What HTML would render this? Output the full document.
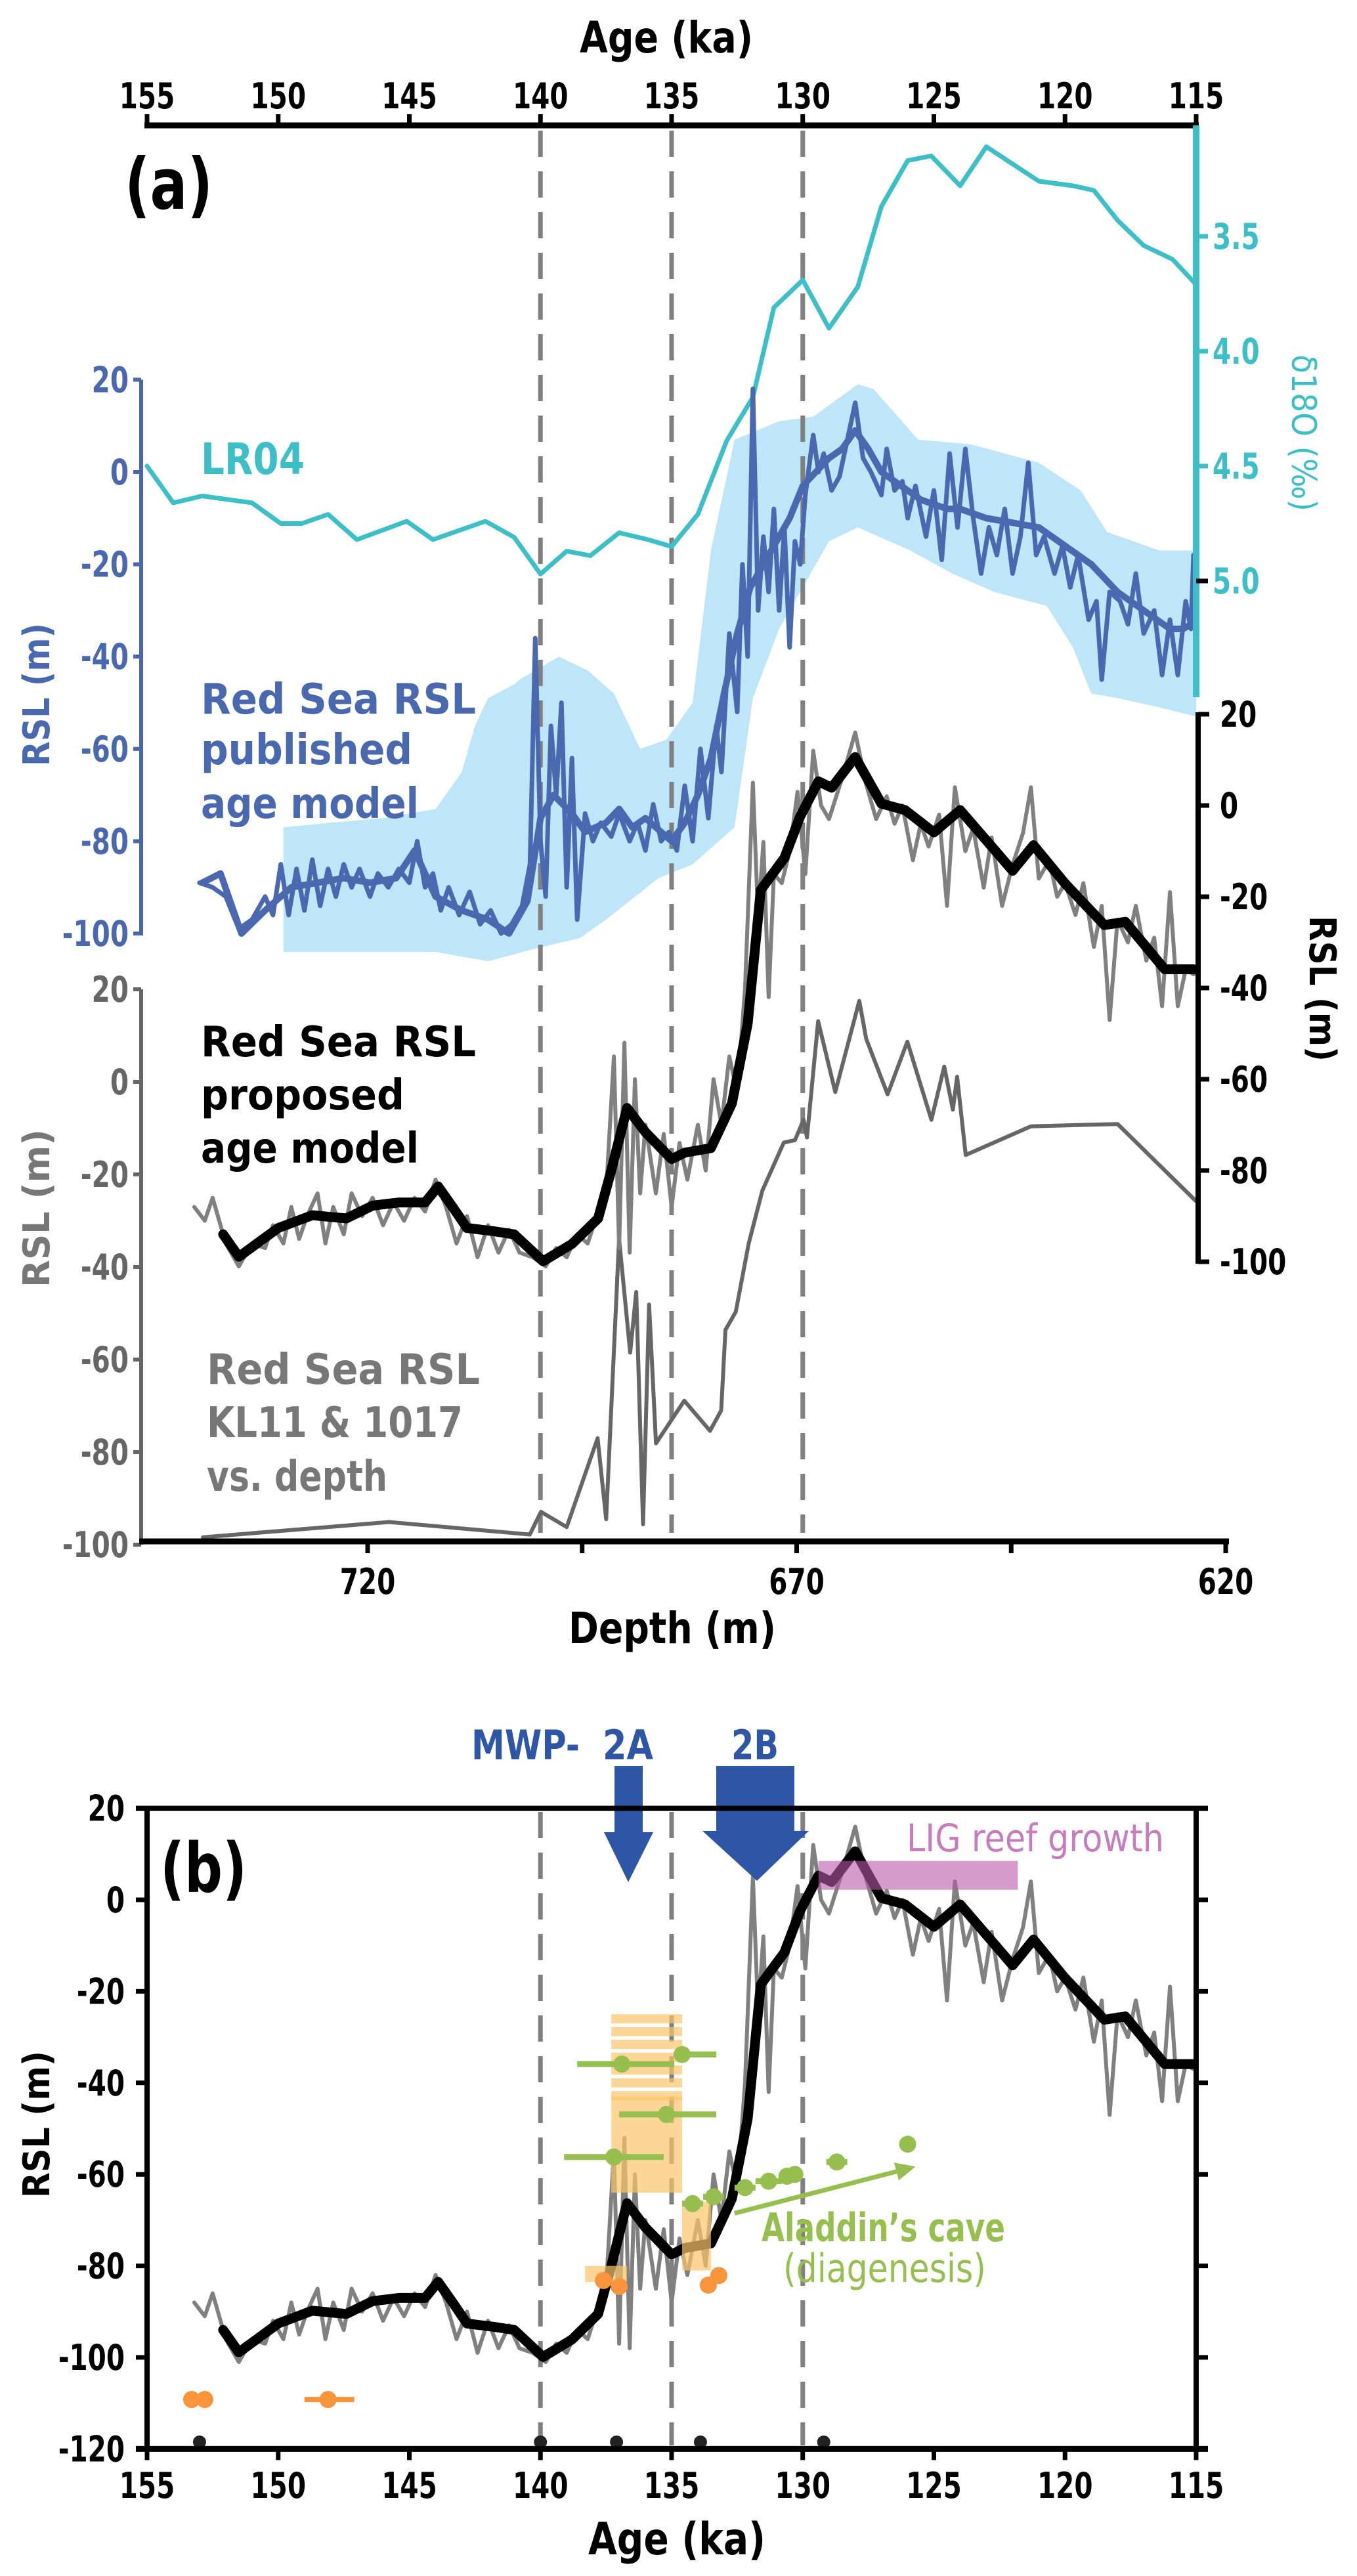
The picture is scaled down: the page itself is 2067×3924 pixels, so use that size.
<!DOCTYPE html>
<html><head><meta charset="utf-8"><style>
html,body{margin:0;padding:0;background:#fff}
svg{display:block}
text{font-family:"DejaVu Sans","Liberation Sans",sans-serif;font-weight:bold}
</style></head><body>
<svg id="fig" xmlns="http://www.w3.org/2000/svg" width="2067" height="3924" viewBox="0 0 2067 3924">
<g id="under"></g>
<g id="marks"></g>
<g id="axes"></g>
<g id="labels">
<text x="883" y="80" font-size="66" textLength="264" lengthAdjust="spacingAndGlyphs">Age (ka)</text>
<text x="190" y="318" font-size="108" textLength="134" lengthAdjust="spacingAndGlyphs">(a)</text>
<text x="306" y="722" font-size="66" fill="#3dbfc8" textLength="158" lengthAdjust="spacingAndGlyphs">LR04</text>
<g fill="#4a68b0" font-size="64">
<text x="306" y="1087" textLength="419" lengthAdjust="spacingAndGlyphs">Red Sea RSL</text>
<text x="306" y="1164" textLength="322" lengthAdjust="spacingAndGlyphs">published</text>
<text x="306" y="1246" textLength="332" lengthAdjust="spacingAndGlyphs">age model</text>
</g>
<g fill="#000" font-size="64">
<text x="306" y="1609" textLength="419" lengthAdjust="spacingAndGlyphs">Red Sea RSL</text>
<text x="306" y="1690" textLength="310" lengthAdjust="spacingAndGlyphs">proposed</text>
<text x="306" y="1771" textLength="332" lengthAdjust="spacingAndGlyphs">age model</text>
</g>
<g fill="#777" font-size="64" style="font-weight:normal">
<text x="315" y="2108" textLength="416" lengthAdjust="spacingAndGlyphs">Red Sea RSL</text>
<text x="315" y="2189" textLength="390" lengthAdjust="spacingAndGlyphs">KL11 &amp; 1017</text>
<text x="315" y="2271" textLength="275" lengthAdjust="spacingAndGlyphs">vs. depth</text>
</g>
<text transform="translate(75,1167) rotate(-90)" font-size="56" fill="#4a68b0" textLength="218" lengthAdjust="spacingAndGlyphs">RSL (m)</text>
<text transform="translate(75,1961) rotate(-90)" font-size="56" fill="#777" textLength="241" lengthAdjust="spacingAndGlyphs">RSL  (m)</text>
<text transform="translate(1995,1395) rotate(90)" font-size="56" fill="#000" textLength="222" lengthAdjust="spacingAndGlyphs">RSL (m)</text>
<text transform="translate(1968,540) rotate(90)" font-size="52" fill="#3dbfc8" style="font-weight:normal" textLength="239" lengthAdjust="spacingAndGlyphs">δ18O (‰)</text>
<text x="866" y="2503" font-size="66" textLength="316" lengthAdjust="spacingAndGlyphs">Depth (m)</text>
<text x="718" y="2680" font-size="62" fill="#2e55a6" textLength="165" lengthAdjust="spacingAndGlyphs">MWP-</text>
<text x="918" y="2680" font-size="62" fill="#2e55a6" textLength="77" lengthAdjust="spacingAndGlyphs">2A</text>
<text x="1114" y="2680" font-size="62" fill="#2e55a6" textLength="72" lengthAdjust="spacingAndGlyphs">2B</text>
<text x="244" y="2882" font-size="104" textLength="132" lengthAdjust="spacingAndGlyphs">(b)</text>
<text x="1381" y="2820" font-size="58" fill="#c77cbd" style="font-weight:normal" textLength="392" lengthAdjust="spacingAndGlyphs">LIG reef growth</text>
<text x="1160" y="3414" font-size="60" fill="#97bf4f" textLength="371" lengthAdjust="spacingAndGlyphs">Aladdin’s cave</text>
<text x="1193" y="3476" font-size="60" fill="#97bf4f" style="font-weight:normal" textLength="309" lengthAdjust="spacingAndGlyphs">(diagenesis)</text>
<text transform="translate(75,3348) rotate(-90)" font-size="56" fill="#000" textLength="224" lengthAdjust="spacingAndGlyphs">RSL (m)</text>
<text x="896" y="3891" font-size="68" textLength="270" lengthAdjust="spacingAndGlyphs">Age (ka)</text>
</g>
</svg>
<script>
// ---------- data ----------
const ageTicks=[155,150,145,140,135,130,125,120,115];
const depthTicks=[720,670,620];
const depthMinor=[695,645];
const blueTicks=[20,0,-20,-40,-60,-80,-100];
const grayTicks=[20,0,-20,-40,-60,-80,-100];
const rightTicks=[20,0,-20,-40,-60,-80,-100];
const d18Ticks=[3.5,4.0,4.5,5.0];
const bTicks=[20,0,-20,-40,-60,-80,-100,-120];
const terminations=[140,135,130];
const lrAge=[155,154,152.9,151,149.9,149.1,148.1,147,145.1,144.1,142.1,141,140,139,138.1,137,135.9,135,134,132.9,131.9,131.1,130,129,127.9,127,126,125.1,124,123,121,119.7,118.9,118,117,115.9,115];
const lrD18=[4.50,4.66,4.63,4.66,4.75,4.75,4.71,4.82,4.74,4.82,4.74,4.81,4.97,4.87,4.89,4.79,4.82,4.85,4.71,4.39,4.2,3.81,3.69,3.90,3.72,3.37,3.17,3.15,3.28,3.11,3.26,3.28,3.30,3.43,3.54,3.60,3.71];
const bandUpAge=[149.8,148,146,144,143,142.5,142,141,140.8,139.3,138.2,137.2,136.2,135.2,134.2,133.5,132.6,130.9,129.6,127.9,127.3,125.6,123.6,121,119.4,118.4,116.4,115];
const bandUpVal=[-77,-76,-75,-73,-65,-55,-49,-46,-45,-40,-43,-48,-60,-58,-50,-17,7,11,12,19,18,7,6,2,-4,-13,-17,-17];
const bandLoAge=[149.8,146,144,142,140,138.5,137.5,135.5,134.2,132.6,131.9,130.9,129.8,129,127.9,125.9,124.3,122.7,120.7,119.7,119,118,116.4,115];
const bandLoVal=[-104,-104,-104,-106,-103,-101,-97,-88,-85,-77,-49,-34,-23,-15,-12,-17,-22,-26,-29,-38,-48,-49,-51,-53];
const pubSmAge=[152.9,152.2,151.4,150.5,149.5,148.5,147.5,146.5,145.5,144.8,144,143,142,141.2,140.5,140,139.5,138.8,138.3,137.5,137,136.5,136,135,134.5,134,133.5,133,132.5,132,131.5,131,130.5,130,129.5,129,128.5,128,127.5,127,126.5,126,125.5,125,124.5,124,123.5,123,122,121,120,119,118,117,116,115.5,115.2];
const pubSmVal=[-89,-87,-100,-95,-90,-89,-88,-89,-88,-82,-92,-95,-97,-100,-93,-75,-70,-74,-78,-76,-73,-77,-75,-80,-76,-70,-62,-48,-35,-25,-20,-15,-10,-3,0,3,5,9,5,0,-2,-4,-6,-7,-8,-8,-9,-10,-11,-12,-16,-20,-26,-30,-34,-34,-33];
const pubRawAge=[153,152.5,152,151.5,151,150.5,150.2,149.9,149.6,149.3,149,148.7,148.4,148.1,147.8,147.5,147.2,146.9,146.5,146.2,145.8,145.4,145,144.7,144.4,144.1,143.8,143.5,143.1,142.7,142.3,141.9,141.5,141.1,140.7,140.4,140.2,140,139.8,139.6,139.4,139.2,139,138.8,138.6,138.3,138,137.7,137.3,137,136.6,136.3,136,135.7,135.4,135.1,134.8,134.5,134.2,133.9,133.6,133.3,133.1,132.8,132.5,132.3,132.1,131.9,131.7,131.5,131.3,131.1,130.9,130.7,130.5,130.3,130.1,129.9,129.6,129.4,129.2,128.9,128.6,128.3,128,127.7,127.4,127,126.8,126.5,126.2,126,125.7,125.3,125,124.7,124.4,124.1,123.8,123.5,123.2,122.9,122.6,122.3,122,121.7,121.4,121.1,120.8,120.4,120.1,119.8,119.5,119.1,118.8,118.6,118.3,117.9,117.6,117.3,117,116.6,116.3,116,115.7,115.4,115.2,115.1];
const pubRawVal=[-89,-90,-92,-99,-97,-92,-96,-85,-96,-86,-95,-84,-94,-86,-92,-85,-90,-86,-92,-87,-90,-86,-89,-80,-90,-87,-95,-90,-96,-91,-98,-95,-100,-98,-94,-85,-36,-80,-92,-55,-70,-50,-90,-62,-97,-74,-80,-76,-79,-74,-80,-76,-82,-72,-80,-78,-82,-68,-80,-60,-75,-55,-65,-35,-52,-20,-40,18,-30,-14,-26,-8,-30,-12,-38,-15,-20,-5,8,0,4,-4,-1,7,15,3,0,-5,5,-4,-2,-10,-3,-14,-4,-19,4,-12,5,-10,-22,-12,-18,-8,-22,-14,2,-18,-14,-22,-16,-25,-18,-32,-28,-45,-26,-28,-33,-22,-35,-30,-44,-32,-44,-28,-34,-18];
const propSmAge=[152.1,151.5,151,150,148.7,147.4,146.4,145.4,144.4,143.9,143.3,142.8,141.8,141,139.9,138.8,137.8,137.3,136.7,136,135,134.5,133.5,132.7,132.1,131.6,130.7,130.1,129.4,128.9,128,127,126.1,125,124,122,121.2,120,118.5,117.7,116.2,115.1];
const propSmVal=[-94,-98.9,-96.8,-92.6,-89.8,-90.5,-87.7,-87,-87,-83.5,-88.4,-92.6,-93.3,-94,-99.9,-96.1,-90.5,-80,-66.3,-71.6,-77.5,-76.1,-75.1,-65.3,-47.8,-18.5,-11.5,-2.4,5.3,3.9,10.6,0.4,-1,-5.9,-1,-14.3,-8.7,-17.1,-26.2,-25.5,-35.9,-35.9];
const propRawAge=[153.2,152.8,152.5,152,151.5,151,150.5,150.2,149.8,149.5,149.2,148.9,148.5,148.2,147.9,147.5,147.2,146.8,146.4,146,145.6,145.2,144.8,144.4,144,143.6,143.2,142.8,142.4,142,141.6,141.2,140.8,140.3,139.8,139.4,139,138.6,138.2,137.8,137.5,137.2,137,136.8,136.6,136.4,136.2,136,135.6,135.3,135,134.7,134.4,134,133.7,133.4,133.1,132.8,132.5,132.2,131.9,131.7,131.5,131.3,131.1,130.8,130.5,130.2,129.9,129.6,129.3,129,128.5,128,127.6,127.2,126.8,126.5,126.2,125.8,125.5,125.2,124.8,124.5,124.2,123.8,123.5,123.1,122.8,122.4,122,121.6,121.3,121,120.6,120.3,120,119.6,119.3,118.9,118.6,118.3,118,117.6,117.3,116.9,116.6,116.3,116,115.7,115.4,115.1];
const propRawVal=[-88,-91,-86,-96,-101,-96,-97,-92,-96,-88,-95,-90,-85,-96,-88,-94,-85,-90,-86,-92,-87,-91,-86,-89,-82,-88,-96,-90,-99,-92,-98,-93,-98,-99,-101,-97,-99,-94,-96,-89,-85,-55,-97,-52,-98,-60,-85,-70,-85,-72,-88,-74,-82,-70,-80,-60,-70,-55,-63,-40,5,-25,-8,-42,-15,-17,-10,3,-15,12,0,-3,6,16,5,-3,2,-4,0,-12,-4,-9,-2,-22,4,-10,-5,-18,-7,-22,-13,-6,4,-16,-12,-20,-17,-24,-17,-31,-22,-47,-25,-30,-22,-34,-29,-44,-19,-44,-36,-37];
const depthD=[739.2,717.5,701.1,699.8,696.8,693.2,692.2,690.7,689.4,688.7,687.9,687.2,686.4,683.1,680.1,678.8,678.3,677.1,675.6,674,671.5,670.2,669.2,668.8,667.5,665.5,662.7,661.9,659.4,657.1,654.3,652.8,651.8,651.3,650.3,642.7,632.6,623.5];
const depthV=[-98.4,-95.1,-97.8,-92.9,-96.2,-77,-94.5,-33.9,-58.5,-45.4,-95.6,-48.1,-78.1,-68.9,-75.4,-71,-53.6,-49.7,-35,-23.5,-13.1,-12.6,-8.2,-12,13.1,-2.2,17.5,9.3,-2.7,8.7,-8.2,3.3,-6,1.1,-15.8,-9.6,-9.1,-25.7];
const greenAge=[136.9,134.6,135.2,137.2,134.2,133.4,132.2,131.3,130.6,130.3,128.7,126.0];
const greenVal=[-35.9,-33.8,-46.9,-56.2,-66.4,-64.9,-62.9,-61.5,-60.4,-60,-57.3,-53.4];
const greenErrOld=[138.6,134.9,137.0,139.1,134.6,133.8,132.6,131.8,130.9,130.6,129.1,126.0];
const greenErrYoung=[134.9,133.3,133.3,135.3,133.8,133.0,131.8,130.8,130.3,130.0,128.3,126.0];
const orangeAge=[137.6,137.0,133.6,133.2,153.3,152.8,148.1];
const orangeVal=[-83.2,-84.5,-84.2,-82.1,-109.2,-109.2,-109.2];
const orangeErrOld=[137.6,137.0,133.6,133.2,153.6,153.1,149.0];
const orangeErrYoung=[137.6,137.0,133.6,133.2,153.0,152.5,147.1];
const blackDotAge=[153.0,140.0,137.1,133.9,129.2];
const blackDotVal=[-118.5,-118.5,-118.5,-118.5,-118.5];
const coralBoxes=[[137.3,134.6,-25,-43],[137.3,134.6,-43,-64],[138.3,136.7,-80,-83.5],[134.6,133.5,-66,-81]];
const ligBox=[129.4,121.8,8.5,2.2];
const aladdinArrow=[132.6,-68.5,125.7,-58.3];

// ---------- scales ----------
const ageX=a=>224+(155-a)*39.95;
const depthX=d=>560+(720-d)*13.07;
const yBlue=v=>719-v*7.03;
const yRight=v=>1227-v*6.95;
const yGrayL=v=>1648-v*7.05;
const yD18=d=>360+(d-3.5)*350;
const yB=v=>2894-v*6.97;

const NS="http://www.w3.org/2000/svg";
const under=document.getElementById('under'),marks=document.getElementById('marks'),axes=document.getElementById('axes');
function mk(tag,attrs,parent){const e=document.createElementNS(NS,tag);for(const k in attrs)e.setAttribute(k,attrs[k]);parent.appendChild(e);return e;}
function linePath(xs,ys,xf,yf){return xs.map((x,i)=>(i?'L':'M')+xf(x).toFixed(1)+','+yf(ys[i]).toFixed(1)).join('');}

// band
{const d=linePath(bandUpAge,bandUpVal,ageX,yBlue)+bandLoAge.slice().reverse().map((a,i)=>'L'+ageX(a).toFixed(1)+','+yBlue(bandLoVal[bandLoVal.length-1-i]).toFixed(1)).join('')+'Z';
const e=mk('path',{d:d,fill:'#bfe5f8',stroke:'none'},under);

}

// dashed termination lines
terminations.forEach(t=>{
 const e=mk('line',{x1:ageX(t),x2:ageX(t),y1:199,y2:2335,stroke:'#808080','stroke-width':7,'stroke-dasharray':'40,22'},under);
 
 
 const f=mk('line',{x1:ageX(t),x2:ageX(t),y1:2760,y2:3725,stroke:'#808080','stroke-width':7,'stroke-dasharray':'40,22'},under);
 
 
});

function series(xs,ys,xf,yf,col,w,name,par){const e=mk('path',{d:linePath(xs,ys,xf,yf),fill:'none',stroke:col,'stroke-width':w,'stroke-linejoin':'round','stroke-linecap':'round'},par||marks);return e;}
let s;
s=series(lrAge,lrD18,ageX,yD18,'#3dbfc8',7);


s=series(pubRawAge,pubRawVal,ageX,yBlue,'#4a68b0',7);


s=series(pubSmAge,pubSmVal,ageX,yBlue,'#4a68b0',10);


s=series(depthD,depthV,depthX,yGrayL,'#666',6);


s=series(propRawAge,propRawVal,ageX,yRight,'#808080',6);


s=series(propSmAge,propSmVal,ageX,yRight,'#000',15);


s=series(propRawAge,propRawVal,ageX,yB,'#808080',6);


s=series(propSmAge,propSmVal,ageX,yB,'#000',15);



// coral boxes
coralBoxes.forEach((b,i)=>{
 const x1=ageX(b[0]),x2=ageX(b[1]),y1=yB(b[2]),y2=yB(b[3]);
 const g=mk('g',{},marks);
 
 
 if(i===0){for(let y=y1;y<y2-4;y+=19.5){mk('rect',{x:x1,y:y,width:x2-x1,height:14,fill:'#fbc56a','fill-opacity':0.7},g);}}
 else mk('rect',{x:x1,y:y1,width:x2-x1,height:y2-y1,fill:'#fbc56a','fill-opacity':0.7},g);
});
{const e=mk('rect',{x:ageX(ligBox[0]),y:yB(ligBox[2]),width:ageX(ligBox[1])-ageX(ligBox[0]),height:yB(ligBox[3])-yB(ligBox[2]),fill:'#b95aa8','fill-opacity':0.6},marks);

}

// green points
greenAge.forEach((a,i)=>{
 const g=mk('g',{},marks);
 
 
 mk('line',{x1:ageX(greenErrOld[i]),x2:ageX(greenErrYoung[i]),y1:yB(greenVal[i]),y2:yB(greenVal[i]),stroke:'#97bf4f','stroke-width':9},g);
 mk('circle',{cx:ageX(a),cy:yB(greenVal[i]),r:13,fill:'#97bf4f'},g);
});
{const x1=ageX(aladdinArrow[0]),y1=yB(aladdinArrow[1]),x2=ageX(aladdinArrow[2]),y2=yB(aladdinArrow[3]);
const g=mk('g',{},marks);


const ang=Math.atan2(y2-y1,x2-x1),L=30,W=14;
const bx=x2-L*Math.cos(ang),by=y2-L*Math.sin(ang);
mk('line',{x1:x1,y1:y1,x2:bx,y2:by,stroke:'#97bf4f','stroke-width':7},g);
mk('polygon',{points:`${x2},${y2} ${bx+W*Math.sin(ang)},${by-W*Math.cos(ang)} ${bx-W*Math.sin(ang)},${by+W*Math.cos(ang)}`,fill:'#97bf4f'},g);}
// orange points
orangeAge.forEach((a,i)=>{
 const g=mk('g',{},marks);
 
 
 mk('line',{x1:ageX(orangeErrOld[i]),x2:ageX(orangeErrYoung[i]),y1:yB(orangeVal[i]),y2:yB(orangeVal[i]),stroke:'#f7943c','stroke-width':8},g);
 mk('circle',{cx:ageX(a),cy:yB(orangeVal[i]),r:13,fill:'#f7943c'},g);
});
blackDotAge.forEach((a,i)=>{
 const e=mk('circle',{cx:ageX(a),cy:yB(blackDotVal[i]),r:10,fill:'#222'},marks);
 
 
});
// MWP arrows
{const a=mk('polygon',{points:'936,2690 979,2690 979,2791 995,2791 957,2867 920,2791 936,2791',fill:'#2e55a6'},marks);


const b=mk('polygon',{points:'1091,2690 1210,2690 1210,2789 1232,2789 1153,2865 1070,2789 1091,2789',fill:'#2e55a6'},marks);

}

// ---------- axes ----------
function L(x1,y1,x2,y2,c,w,par){return mk('line',{x1:x1,y1:y1,x2:x2,y2:y2,stroke:c,'stroke-width':w},par||axes);}
function T(x,y,s,anchor,col,size,par){const e=mk('text',{x:0,y:0,transform:`translate(${x},${y}) scale(1,1.35)`,'text-anchor':anchor,fill:col,'font-size':size*0.88},par||axes);e.textContent=s;return e;}
let ax;
ax=mk('g',{},axes);


L(220,191,1826,191,'#000',9,ax);
ageTicks.forEach(t=>{L(ageX(t),191,ageX(t),174,'#000',7,ax);T(ageX(t),165,t,'middle','#000',46,ax);});
ax=mk('g',{},axes);


L(1822,191,1822,1062,'#3dbfc8',10,ax);
d18Ticks.forEach(t=>{L(1822,yD18(t),1840,yD18(t),t===5.0?'#000':'#3dbfc8',7,ax);T(1847,yD18(t)+19,t.toFixed(1),'start','#3dbfc8',46,ax);});
ax=mk('g',{},axes);


L(215,yBlue(20),215,yBlue(-100)+3,'#4a68b0',6,ax);
blueTicks.forEach(t=>{L(203,yBlue(t),215,yBlue(t),'#4a68b0',6,ax);T(196,yBlue(t)+19,t,'end','#4a68b0',46,ax);});
ax=mk('g',{},axes);


L(215,yGrayL(20),215,yGrayL(-100),'#666',6,ax);
grayTicks.forEach(t=>{L(203,yGrayL(t),215,yGrayL(t),'#666',6,ax);T(196,yGrayL(t)+19,t,'end','#666',46,ax);});
ax=mk('g',{},axes);


L(1825,yRight(20)-3,1825,yRight(-100)+3,'#000',8,ax);
rightTicks.forEach(t=>{L(1825,yRight(t),1842,yRight(t),'#000',7,ax);T(1858,yRight(t)+19,t,'start','#000',46,ax);});
ax=mk('g',{},axes);


L(212,2348,1872,2348,'#000',9,ax);
depthTicks.forEach(t=>{L(depthX(t),2348,depthX(t),2366,'#000',7,ax);T(depthX(t),2428,t,'middle','#000',46,ax);});
depthMinor.forEach(t=>{L(depthX(t),2348,depthX(t),2366,'#000',7,ax);});
ax=mk('g',{},axes);


L(207,yB(20),1840,yB(20),'#000',8,ax);
L(207,yB(-120),1840,yB(-120),'#000',9,ax);
L(224,yB(20),224,yB(-120),'#000',8,ax);
L(1822,yB(20),1822,yB(-120),'#000',8,ax);
bTicks.forEach(t=>{L(207,yB(t),224,yB(t),'#000',7,ax);L(1822,yB(t),1840,yB(t),'#000',7,ax);T(190,yB(t)+19,t,'end','#000',46,ax);});
ageTicks.forEach(t=>{L(ageX(t),yB(-120),ageX(t),yB(-120)+17,'#000',7,ax);T(ageX(t),3805,t,'middle','#000',46,ax);});
</script>
</body></html>
